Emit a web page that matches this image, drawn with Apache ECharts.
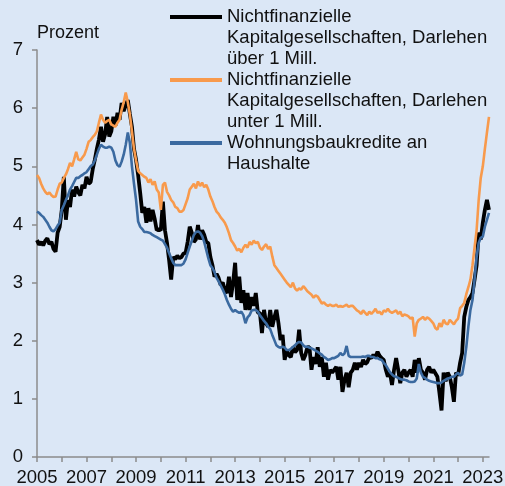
<!DOCTYPE html>
<html>
<head>
<meta charset="utf-8">
<script src="https://cdn.jsdelivr.net/npm/echarts@6/dist/echarts.min.js"></script>
<style>
  html, body { margin: 0; padding: 0; background: #dbe7f6; }
  #chart { width: 505px; height: 486px; }
</style>
</head>
<body>
<div id="chart"></div>
<script>
  // Monatswerte Jan 2005 – Apr 2023, Prozent
  var startYear = 2005
  var monthCount = 220
  var yTicks = [0, 1, 2, 3, 4, 5, 6, 7]

  var nameUeber = 'Nichtfinanzielle\nKapitalgesellschaften, Darlehen\nüber 1 Mill.'
  var nameUnter = 'Nichtfinanzielle\nKapitalgesellschaften, Darlehen\nunter 1 Mill.'
  var nameWohnung = 'Wohnungsbaukredite an\nHaushalte'

  var darlehenUeber = [
    3.73, 3.65, 3.7, 3.64, 3.72, 3.76, 3.66, 3.7, 3.58, 3.53, 3.86, 3.96,
    4.25, 4.82, 4.08, 4.42, 4.3, 4.6, 4.48, 4.65, 4.55, 4.5, 4.68, 4.62,
    4.82, 4.7, 4.73, 4.95, 5.11, 5.3, 5.46, 5.68, 5.42, 5.55, 5.85, 5.51,
    5.6, 5.85, 5.7, 5.92, 5.8, 6.09, 5.95, 6.05, 6.14, 5.9, 5.68, 5.3,
    5.11, 4.85, 4.54, 4.2, 4.3, 4.03, 4.28, 4.05, 4.25, 4.1, 3.9, 3.92,
    3.9, 4.39, 3.9, 3.68, 3.39, 3.05, 3.44, 3.4, 3.46, 3.42, 3.44, 3.5,
    3.51, 3.7, 3.96, 3.86, 3.7, 3.74, 3.99, 3.74, 3.9, 3.82, 3.7, 3.68,
    3.44, 3.3, 3.1, 3.15, 3.08, 2.96, 3.0, 2.87, 2.82, 3.1, 2.75, 3.0,
    3.34, 2.7, 3.1, 2.65, 2.87, 2.53, 2.82, 2.53, 2.75, 2.6, 2.82, 2.48,
    2.48, 2.13, 2.53, 2.3, 2.24, 2.53, 2.24, 2.4, 2.53, 2.3, 2.01, 2.1,
    1.67, 1.84, 1.75, 1.72, 1.89, 1.8, 1.84, 2.19, 1.79, 1.67, 1.75, 1.89,
    1.89, 1.5, 1.72, 1.6, 1.89, 1.55, 1.72, 1.38, 1.62, 1.33, 1.5, 1.45,
    1.5, 1.55, 1.33, 1.55, 1.12, 1.33, 1.45, 1.2, 1.45, 1.5, 1.62, 1.5,
    1.62, 1.55, 1.67, 1.6, 1.63, 1.72, 1.7, 1.76, 1.72, 1.81, 1.74, 1.7,
    1.67, 1.5, 1.38, 1.45, 1.24, 1.5, 1.7, 1.5, 1.27, 1.45, 1.5, 1.38,
    1.45, 1.5, 1.38, 1.67, 1.45, 1.7, 1.5, 1.45, 1.33, 1.5, 1.55, 1.45,
    1.5, 1.44, 1.38, 1.1, 0.8, 1.45, 1.3, 1.45, 1.38, 1.2, 0.95, 1.45,
    1.4, 1.62, 1.79, 2.41, 2.58, 2.7, 2.75, 2.82, 3.05, 3.3, 3.86, 3.74,
    4.03, 4.25, 4.42, 4.25
  ]

  var darlehenUnter = [
    4.85, 4.8, 4.7, 4.62, 4.56, 4.52, 4.55, 4.5, 4.47, 4.48, 4.6, 4.7,
    4.72, 4.8, 4.86, 4.95, 5.06, 5.0, 5.12, 5.25, 5.12, 5.1, 5.15, 5.2,
    5.3, 5.42, 5.45, 5.5, 5.54, 5.6, 5.75, 5.89, 5.8, 5.75, 5.78, 5.8,
    5.72, 5.7, 5.68, 5.75, 5.8, 5.97, 6.1, 6.27, 6.1, 5.89, 5.6, 5.3,
    5.1, 4.92, 4.88, 4.85, 4.82, 4.8, 4.72, 4.78, 4.68, 4.74, 4.6, 4.55,
    4.25, 4.68, 4.72, 4.56, 4.5, 4.42, 4.38, 4.3, 4.28, 4.22, 4.22, 4.25,
    4.35, 4.45, 4.6, 4.65, 4.7, 4.62, 4.74, 4.66, 4.72, 4.64, 4.68, 4.6,
    4.48, 4.4, 4.3, 4.22, 4.18, 4.12, 4.08, 4.03, 3.95, 3.85, 3.73, 3.68,
    3.62, 3.55, 3.58, 3.52, 3.6, 3.65, 3.6, 3.7, 3.65, 3.72, 3.68, 3.7,
    3.6, 3.56, 3.62, 3.66, 3.58, 3.62, 3.45, 3.3, 3.25, 3.2, 3.15, 3.1,
    3.05, 3.0, 2.96, 2.92, 3.0, 2.9, 2.86, 2.9, 2.88, 2.94, 2.9, 2.85,
    2.82, 2.79, 2.74, 2.78, 2.76, 2.7, 2.64, 2.66, 2.62, 2.6, 2.62, 2.6,
    2.6, 2.62, 2.58, 2.6, 2.58, 2.6, 2.62, 2.58, 2.6, 2.6, 2.56, 2.52,
    2.5, 2.46, 2.52, 2.48, 2.44, 2.5, 2.46, 2.5, 2.55, 2.48, 2.5, 2.45,
    2.52, 2.5, 2.55, 2.5, 2.48, 2.5, 2.52, 2.46, 2.5, 2.42, 2.45, 2.44,
    2.42, 2.38, 2.4, 2.07, 2.3, 2.36, 2.38, 2.41, 2.36, 2.4, 2.38, 2.34,
    2.3, 2.22, 2.19, 2.3, 2.24, 2.36, 2.3, 2.28, 2.36, 2.32, 2.28, 2.34,
    2.38, 2.56, 2.6, 2.65, 2.8, 2.92, 3.05, 3.3, 3.6, 3.9, 4.42, 4.8,
    5.0, 5.3, 5.58, 5.85
  ]

  var wohnungsbau = [
    4.22, 4.2, 4.16, 4.13, 4.08, 4.03, 3.96, 3.9, 3.88, 3.92, 3.98, 4.03,
    4.25, 4.33, 4.42, 4.5, 4.6, 4.66, 4.73, 4.8, 4.8, 4.83, 4.85, 4.88,
    4.9, 4.95, 5.0, 5.03, 5.1, 5.2, 5.3, 5.37, 5.34, 5.32, 5.32, 5.34,
    5.32, 5.25, 5.1, 5.02, 4.99, 5.08, 5.2, 5.37, 5.58, 5.4, 5.0, 4.7,
    4.42, 4.05, 3.96, 3.92, 3.87, 3.87, 3.86, 3.85, 3.82, 3.8, 3.78, 3.76,
    3.74, 3.72, 3.66, 3.6, 3.51, 3.42, 3.34, 3.3, 3.3, 3.3, 3.3, 3.33,
    3.4, 3.51, 3.62, 3.72, 3.82, 3.87, 3.88, 3.86, 3.8, 3.7, 3.56, 3.42,
    3.3, 3.25, 3.18, 3.08, 3.02, 2.95, 2.88, 2.8, 2.7, 2.62, 2.55, 2.5,
    2.53, 2.5, 2.48, 2.5, 2.44, 2.3, 2.4, 2.44, 2.52, 2.53, 2.53, 2.5,
    2.44, 2.39, 2.34, 2.3, 2.24, 2.2, 2.1, 2.01, 1.92, 1.89, 1.88, 1.9,
    1.88, 1.84, 1.84, 1.86, 1.89, 1.92, 1.96, 1.98, 1.97, 1.92, 1.89, 1.9,
    1.88, 1.87, 1.85, 1.83, 1.81, 1.78, 1.76, 1.72, 1.7, 1.67, 1.68, 1.7,
    1.7, 1.72, 1.74, 1.79, 1.75, 1.78, 1.91, 1.74, 1.72, 1.72, 1.72, 1.72,
    1.72, 1.72, 1.73, 1.72, 1.74, 1.74, 1.72, 1.72, 1.7, 1.7, 1.68, 1.67,
    1.62, 1.58, 1.52, 1.46, 1.42, 1.39, 1.38, 1.36, 1.34, 1.33, 1.33, 1.32,
    1.3, 1.29, 1.29, 1.3, 1.35, 1.6, 1.45, 1.38, 1.36, 1.33, 1.31, 1.3,
    1.29, 1.28, 1.27, 1.27, 1.28, 1.31, 1.33, 1.35, 1.36, 1.38, 1.38, 1.42,
    1.45, 1.4, 1.42, 1.62, 1.89, 2.24, 2.53, 2.7, 3.05, 3.44, 3.68, 3.77,
    3.79, 3.96, 4.08, 4.2
  ]

  var months = []
  for (var i = 0; i < monthCount; i++) {
    var y = startYear + Math.floor(i / 12)
    var m = (i % 12) + 1
    months.push(y + '-' + (m < 10 ? '0' + m : m))
  }

  var font = '"Liberation Sans", Arial, sans-serif'
  var axisGrey = '#8c8c8c'
  var textColor = '#111'
  var legendLine = 21

  // Legenden einzeln; Leerzeilen oben, damit das Linien-Symbol an der ersten Textzeile sitzt
  function legendAt (name, iconY) {
    var lines = name.split('\n').length
    var pad = ''
    for (var k = 1; k < lines; k++) pad += ' \n'
    var total = 2 * lines - 1
    return {
      data: [name],
      left: 170,
      top: iconY - total * legendLine / 2,
      orient: 'vertical',
      padding: 0,
      icon: 'rect',
      itemWidth: 52,
      itemHeight: 4,
      selectedMode: false,
      formatter: function (n) { return pad + n },
      textStyle: {
        fontFamily: font,
        fontSize: 18.5,
        color: textColor,
        lineHeight: legendLine
      }
    }
  }

  var chart = echarts.init(document.getElementById('chart'), null, { renderer: 'canvas' })
  var option = {
    backgroundColor: '#dbe7f6',
    animation: false,
    textStyle: { fontFamily: font },
    grid: {
      left: 37,
      right: 16,
      top: 50,
      bottom: 29,
      containLabel: false,
      outerBoundsMode: 'none'
    },
    legend: [
      legendAt(nameUeber, 17),
      legendAt(nameUnter, 80),
      legendAt(nameWohnung, 143)
    ],
    xAxis: {
      type: 'category',
      data: months,
      boundaryGap: false,
      axisLine: { lineStyle: { color: axisGrey, width: 1.5 } },
      axisTick: {
        length: 5,
        lineStyle: { color: axisGrey, width: 1.5 },
        interval: function (index) { return index % 12 === 0 }
      },
      axisLabel: {
        margin: 11,
        fontSize: 18.5,
        color: textColor,
        fontFamily: font,
        interval: function (index) { return index % 24 === 0 },
        formatter: function (value) { return value.slice(0, 4) }
      },
      splitLine: { show: false }
    },
    yAxis: {
      type: 'value',
      min: yTicks[0],
      max: yTicks[yTicks.length - 1],
      interval: 1,
      name: 'Prozent',
      nameLocation: 'end',
      nameGap: 17,
      nameTextStyle: {
        align: 'left',
        verticalAlign: 'middle',
        fontSize: 18,
        color: textColor,
        fontFamily: font
      },
      axisLine: { show: true, lineStyle: { color: axisGrey, width: 1.5 } },
      axisTick: { show: true, length: 5, lineStyle: { color: axisGrey, width: 1.5 } },
      axisLabel: {
        margin: 14,
        fontSize: 18.5,
        color: textColor,
        fontFamily: font
      },
      splitLine: { show: false }
    },
    series: [
      {
        name: nameUeber,
        type: 'line',
        data: darlehenUeber,
        showSymbol: false,
        symbol: 'none',
        color: '#000000',
        lineStyle: { color: '#000000', width: 3.8 }
      },
      {
        name: nameUnter,
        type: 'line',
        data: darlehenUnter,
        showSymbol: false,
        symbol: 'none',
        color: '#f89a4c',
        lineStyle: { color: '#f89a4c', width: 2.6 }
      },
      {
        name: nameWohnung,
        type: 'line',
        data: wohnungsbau,
        showSymbol: false,
        symbol: 'none',
        color: '#3b6aa0',
        lineStyle: { color: '#3b6aa0', width: 2.6 }
      }
    ]
  }
  chart.setOption(option)
</script>
</body>
</html>
